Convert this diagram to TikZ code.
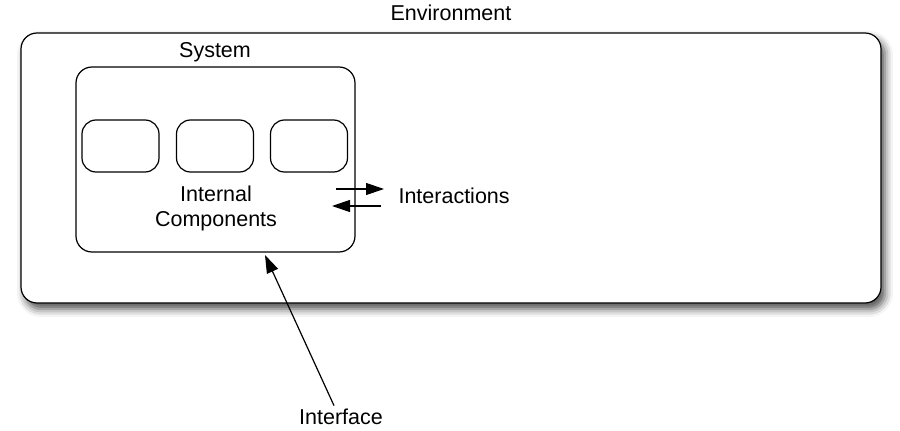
\documentclass[tikz,border=0pt]{standalone}
\usepackage{fontspec}
\setmainfont{Liberation Sans}
\usetikzlibrary{arrows.meta,shadows.blur}
\begin{document}
\begin{tikzpicture}[
  x=1pt, y=-1pt,
  every node/.style={font=\fontsize{21.5}{25}\selectfont, align=center},
  box/.style={draw, line width=1.2pt, rounded corners=16pt, inner sep=0pt},
  part/.style={box, rounded corners=14pt, minimum width=77pt, minimum height=52pt},
  link/.style={line width=1.2pt, -{Triangle[length=18pt,width=12pt]}}
]
\useasboundingbox (0,0) rectangle (900,431);
\node[box, fill=white, minimum width=860pt, minimum height=270pt,
  blur shadow={shadow xshift=4pt, shadow yshift=-6pt, shadow blur radius=8pt, shadow opacity=70}]
  (env) at (451,168) {};
\node (envlabel) at (451,13) {Environment};
\node[box, minimum width=279pt, minimum height=185pt] (sys) at (215.5,159.5) {};
\node (syslabel) at (215,52) {System};
\node[part] (partA) at (120.5,146) {};
\node[part] (partB) at (215,146) {};
\node[part] (partC) at (309,146) {};
\node (internal) at (216,208) {Internal\\Components};
% interactions across the boundary
\coordinate (outA) at (336,189);
\coordinate (outB) at (384,189);
\coordinate (inA) at (381,206);
\coordinate (inB) at (332,206);
\draw[link] (outA) -- (outB);
\draw[link] (inA) -- (inB);
\node[anchor=west] (inter) at (395,196) {Interactions};
% interface
\node (iface) at (341,417) {Interface};
\coordinate (ifacetip) at (265,255);
\draw[link] ([xshift=-7pt]iface.north) -- (ifacetip);
\end{tikzpicture}
\end{document}
